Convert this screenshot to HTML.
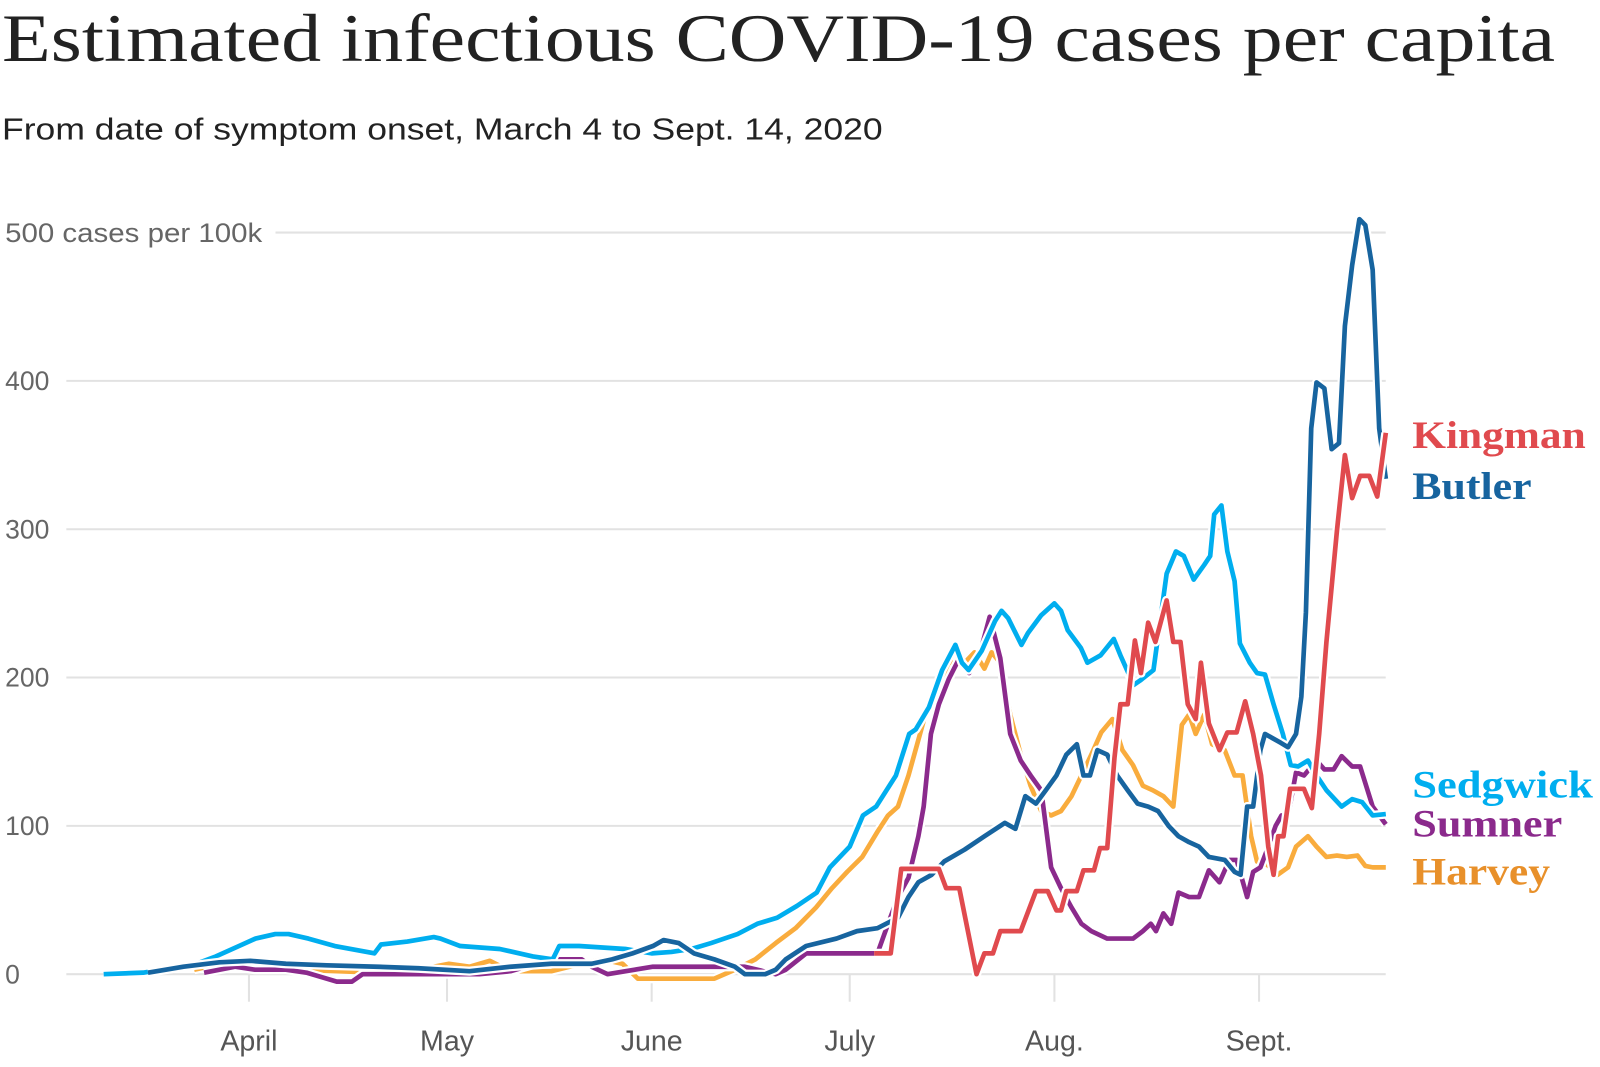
<!DOCTYPE html>
<html><head><meta charset="utf-8"><style>
html,body{margin:0;padding:0;background:#fff;}
svg{display:block;}
</style></head><body>
<svg id="chart" width="1600" height="1067" viewBox="0 0 1568 1046" preserveAspectRatio="none" xmlns="http://www.w3.org/2000/svg">
<text x="2" y="60" font-family="Liberation Serif, serif" font-size="66" fill="#222" textLength="1522" lengthAdjust="spacingAndGlyphs">Estimated infectious COVID-19 cases per capita</text>
<text x="2" y="137" font-family="Liberation Sans, sans-serif" font-size="30" fill="#222" textLength="863" lengthAdjust="spacingAndGlyphs">From date of symptom onset, March 4 to Sept. 14, 2020</text>
<g id="grid"></g><g id="xaxis"></g><g id="lines"></g><g id="labels"></g>
</svg>
<script>
const yTicks=[0,100,200,300,400,500];
const yTickLabels=["0","100","200","300","400","500 cases per 100k"];
const monthDays=[31,61,92,122,153,184];
const monthLabels=["April","May","June","July","Aug.","Sept."];
const seriesNames=["Harvey","Sumner","Sedgwick","Butler","Kingman"];
const harveyDays=[22.7,28.9,33.5,38.1,44.3,50.5,56.7,61.3,64.4,67.5,70.6,76.8,81.4,84.5,87.6,89.9,101.5,104.6,107.7,110.8,113.8,116.9,119.3,121.6,123.9,126.2,127.8,129.3,130.9,132.4,133.9,135.5,137,139.4,140.9,142.4,143.5,144.8,146.3,147.9,149.4,151,152.5,154,155.6,157.1,158.6,160.1,161.8,163.3,164.9,166.4,167.9,169.5,171,172.3,173.4,174.4,175.7,176.9,178.8,180.3,181.5,182.8,183.7,184.6,185.7,186.8,188.4,189.6,191.4,192.7,194.2,195.8,197.3,198.9,200.1,201.2,203.2];
const harveyValues=[3,9,7,3,2,1,3,7,5,9,2,2,7,10,7,-3,-3,3,10,21,31,45,58,69,79,96,107,113,134,158,182,196,210,210,217,206,217,210,175,148,127,110,107,110,120,134,148,163,172,151,141,127,124,120,113,168,175,162,175,155,151,134,134,93,76,76,72,67,72,86,93,86,79,80,79,80,73,72,72];
const sumnerDays=[24.2,28.9,31.9,36.6,39.7,44.3,46.6,48.2,58.2,65.9,70.6,76.8,81.4,82.9,85.3,92.2,106.1,110.8,112.3,115.4,126.2,127.8,129.3,130.9,132.4,133.2,134.3,135.5,137,138.6,140.1,141.7,143.2,144.8,146.3,147.9,149.4,151,152.5,154,155.6,157.1,158.6,161,164.9,166.4,167.6,168.4,169.5,170.7,171.8,173.4,174.9,176.4,178,179.5,180.6,182.2,183.1,184.2,185.4,186.5,187.4,188.4,189.6,190.8,192.7,193.9,195.3,196.5,198.1,199.3,201.2,203.2];
const sumnerValues=[1,5,3,3,1,-5,-5,0,0,0,2,10,10,5,0,5,5,0,3,14,14,34,52,65,93,113,162,182,199,213,203,216,241,213,162,144,134,124,72,58,45,34,29,24,24,29,34,29,41,34,55,52,52,70,62,77,77,52,69,72,86,100,107,107,136,134,144,138,138,147,140,140,113,101];
const sedgwickDays=[9,15,23,26,30,32,35,37,40,44,50,51,55,59,60,63,69,74,77,78,81,88,92,95,98,101,105,108,111,114,117,119,122,124,126,129,131,132,134,136,138,139,140,142,144,145,146,148,149,151,153,154,155,157,158,160,162,163,165,166,168,170,171.4,172.6,174.1,175.7,176.6,177.2,178.3,179.2,180.3,181.1,182.6,183.7,184.9,186.2,187.6,188.8,189.9,191.4,192.7,194.2,196.5,198.1,199.6,201.2,203.2];
const sedgwickValues=[0,1,7,12,20,24,27,27,24,19,14,20,22,25,24,19,17,12,10,19,19,17,14,15,17,21,27,34,38,46,55,72,86,107,113,134,162,165,180,205,222,210,205,218,238,245,240,222,230,242,250,245,232,220,210,215,226,215,195,198,205,270,285,282,266,276,282,310,316,285,265,223,210,203,202,182,162,141,140,144,134,124,113,118,116,107,108];
const butlerDays=[15.7,21.1,26.5,31.2,36.6,42.8,50.5,56.7,64.4,70.6,76.8,82.9,86,89.1,92.2,93.8,96.1,98.4,101.5,104.6,106.1,109.2,110.8,112.3,115.4,120,123.1,126.2,129.3,130.9,132.4,134.4,136.3,139.4,142.4,145.5,147.1,148.6,150.2,151.7,153.3,154.8,156.4,157.4,158.4,159.5,161,162.5,164.1,165.6,167.2,168.7,170.3,171.8,173.4,174.9,176.4,178.8,180.3,181.2,182.2,183.1,184.2,184.9,187.3,188.4,189.6,190.4,191.1,191.9,192.7,193.9,195,196.1,197,198.1,199.2,200.1,201.2,202.2,203.2];
const butlerValues=[1,5,8,9,7,6,5,4,2,5,7,7,10,14,19,23,21,14,10,5,0,0,3,10,19,24,29,31,38,52,62,67,76,84,93,102,98,120,115,124,134,148,155,134,134,151,148,134,124,115,113,110,100,93,89,86,79,77,69,67,113,113,151,162,156,153,162,187,244,368,399,395,354,358,437,478,509,505,475,368,334];
const kingmanDays=[125.7,128.2,129.8,135.5,136.6,138.6,141.2,142.4,143.7,144.8,147.9,150.2,152,153.3,154,154.8,156.4,157.4,159,159.9,161,162.1,163,164.1,165.2,166.1,167.2,168.3,170,171,172.1,173.2,174.4,175.2,176.4,178,179.2,180.6,181.9,183.1,184.3,185.4,186.2,186.9,187.7,188.7,190.8,192,193.1,194.2,195.8,197,198.1,199.3,200.7,201.9,203.2];
const kingmanValues=[14,14,71,71,58,58,0,14,14,29,29,56,56,43,43,56,56,70,70,85,85,146,182,182,225,203,237,224,252,224,224,182,172,210,169,151,163,163,184,162,134,86,67,93,93,125,125,112,162,224,299,350,321,336,336,322,365];

const NS="http://www.w3.org/2000/svg";
function x(d){return 43.4+6.47*d;}
function y(v){return 955-1.454*v;}
function mk(tag,attrs,parent){const e=document.createElementNS(NS,tag);for(const k in attrs)e.setAttribute(k,attrs[k]);parent.appendChild(e);return e;}
const grid=document.getElementById('grid');
yTicks.forEach((t,i)=>{
  const isTop=i===yTickLabels.length-1;
  const gl=mk('line',{x1:isTop?270:65,x2:1358,y1:y(t),y2:y(t),stroke:'#e2e2e2','stroke-width':2},grid);
  
  
  const attrs={x:5,y:y(t)+9,'font-family':'Liberation Sans, sans-serif','font-size':26,fill:'#666'};
  if(isTop){attrs.textLength=252;attrs.lengthAdjust='spacingAndGlyphs';}
  const tx=mk('text',attrs,grid);
  tx.textContent=yTickLabels[i];
  
  
});
const xa=document.getElementById('xaxis');
monthDays.forEach((d,i)=>{
  const tk=mk('line',{x1:x(d),x2:x(d),y1:955,y2:982,stroke:'#e2e2e2','stroke-width':2},xa);
  
  
  const tx=mk('text',{x:x(d),y:1030,'text-anchor':'middle','font-family':'Liberation Sans, sans-serif','font-size':28,fill:'#555'},xa);
  tx.textContent=monthLabels[i];
  
  
});
const series=[
 {n:'harvey',d:harveyDays,v:harveyValues,c:'#f9ac3d'},
 {n:'sumner',d:sumnerDays,v:sumnerValues,c:'#8b2a8c'},
 {n:'sedgwick',d:sedgwickDays,v:sedgwickValues,c:'#00aeef'},
 {n:'butler',d:butlerDays,v:butlerValues,c:'#17649f'},
 {n:'kingman',d:kingmanDays,v:kingmanValues,c:'#e04a4e'}];
const lines=document.getElementById('lines');
series.forEach(s=>{
  const pts=s.d.map((d,i)=>x(d).toFixed(1)+','+y(s.v[i]).toFixed(1)).join(' ');
  const halo=mk('polyline',{points:pts,fill:'none',stroke:'#fff','stroke-width':9,'stroke-linejoin':'round'},lines);
  
  
  const pl=mk('polyline',{points:pts,fill:'none',stroke:s.c,'stroke-width':4.6,'stroke-linejoin':'round'},lines);
  
  
});
const labelText=["Kingman","Butler","Sedgwick","Sumner","Harvey"];
const labelColor=['#e04a4e','#17649f','#00aeef','#8b2a8c','#e8902a'];
const labelY=[439,489,782,820,867];
const labelWidth=[170,117,177,147,135];
const lg=document.getElementById('labels');
labelText.forEach((t,i)=>{
  const tx=mk('text',{x:1384,y:labelY[i],'font-family':'Liberation Serif, serif','font-size':38,'font-weight':'bold',fill:labelColor[i],textLength:labelWidth[i],lengthAdjust:'spacingAndGlyphs'},lg);
  tx.textContent=t;
  
  
});
</script>
</body></html>
